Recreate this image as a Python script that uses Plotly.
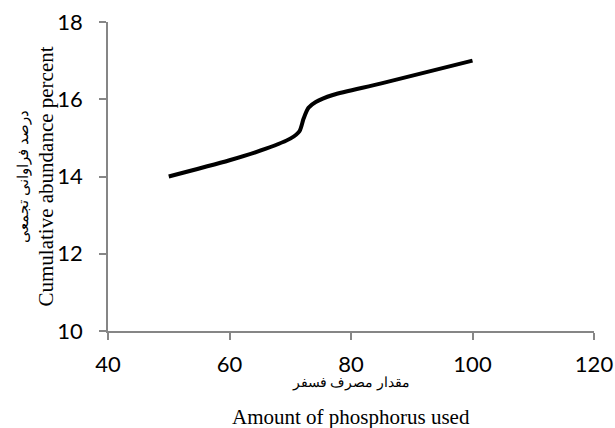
import plotly.graph_objects as go

x_vals = [50, 60, 66, 70, 71.5, 72.2, 73.0, 74.2, 77, 85, 100]
y_vals = [14.0, 14.42, 14.72, 14.98, 15.17, 15.5, 15.78, 15.93, 16.11, 16.41, 17.0]

x_ticks = [40, 60, 80, 100, 120]
y_ticks = [10, 12, 14, 16, 18]

x_title_fa = "مقدار مصرف فسفر"
x_title_en = "Amount of phosphorus used"
y_title_fa = "درصد فراوانی تجمعی"
y_title_en = "Cumulative abundance percent"

fig = go.Figure()
fig.add_trace(go.Scatter(
    x=x_vals, y=y_vals, mode="lines",
    line=dict(color="black", width=4, shape="spline", smoothing=0.8),
    showlegend=False, hoverinfo="skip",
))

axis_gray = "#868686"
serif = "Liberation Serif, Times New Roman, serif"
fig.update_layout(
    width=615, height=428,
    margin=dict(l=108, r=21, t=22, b=97),
    paper_bgcolor="white", plot_bgcolor="white",
    font=dict(family="Lato, Open Sans, sans-serif", size=22, color="black"),
    xaxis=dict(
        range=[40, 120], tickvals=x_ticks, showgrid=False, zeroline=False,
        showline=True, linecolor=axis_gray, linewidth=1.5,
        ticks="outside", ticklen=7, tickcolor=axis_gray, tickwidth=1.5,
        tickfont=dict(size=22), automargin=False, ticklabelstandoff=6,
        ticklabeloverflow="allow",
    ),
    yaxis=dict(
        range=[10, 18], tickvals=y_ticks, showgrid=False, zeroline=False,
        showline=True, linecolor=axis_gray, linewidth=1.5,
        ticks="outside", ticklen=7, tickcolor=axis_gray, tickwidth=1.5,
        tickfont=dict(size=22), automargin=False, ticklabelstandoff=12,
        ticklabeloverflow="allow",
    ),
)

fig.add_annotation(text=x_title_fa, xref="paper", yref="paper", x=0.5, y=0,
                   xanchor="center", yanchor="middle", yshift=-52, showarrow=False,
                   font=dict(family=serif, size=13.5))
fig.add_annotation(text=x_title_en, xref="paper", yref="paper", x=0.5, y=0,
                   xanchor="center", yanchor="middle", yshift=-86, showarrow=False,
                   font=dict(family=serif, size=21))
fig.add_annotation(text=y_title_fa, xref="paper", yref="paper", x=0, y=0.5,
                   xanchor="center", yanchor="middle", xshift=-85, showarrow=False,
                   textangle=-90, font=dict(family=serif, size=15))
fig.add_annotation(text=y_title_en, xref="paper", yref="paper", x=0, y=0.5,
                   xanchor="center", yanchor="middle", xshift=-63, showarrow=False,
                   textangle=-90, font=dict(family=serif, size=21))

fig.write_html(
    "out.html",
    config={"displayModeBar": False},
    post_script="document.body.style.margin='0';document.body.style.overflow='hidden';",
)
